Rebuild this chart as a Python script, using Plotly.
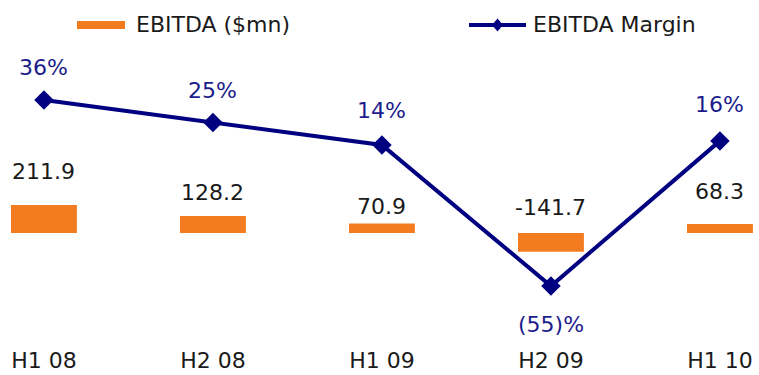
import plotly.graph_objects as go

# Half-year periods
periods = ["H1 08", "H2 08", "H1 09", "H2 09", "H1 10"]
# EBITDA in $ millions
ebitda = [211.9, 128.2, 70.9, -141.7, 68.3]
# EBITDA margin in percent
margin = [36, 25, 14, -55, 16]

ORANGE = "#F47C20"
NAVY = "#000080"
FONT = "DejaVu Sans"
FS = 22

W, H = 759, 375
M_T, M_B = 0, 30
PH = H - M_T - M_B  # plot area height in px


def pct_label(v):
    return f"{v}%" if v >= 0 else f"({abs(v)})%"


fig = go.Figure()

fig.add_trace(go.Bar(
    x=periods, y=ebitda, marker=dict(color=ORANGE, line=dict(width=0)),
    name="EBITDA ($mn)", showlegend=False, yaxis="y",
))

fig.add_trace(go.Scatter(
    x=periods, y=margin, mode="lines+markers",
    line=dict(color=NAVY, width=4),
    marker=dict(symbol="diamond", size=15, color=NAVY),
    name="EBITDA Margin", showlegend=False, yaxis="y2",
))

# value labels above the bars
bar_shift = [33, 24, 17, 26, 32]
for p, v, s in zip(periods, ebitda, bar_shift):
    fig.add_annotation(x=p, y=max(v, 0), yref="y", text=f"{v:.1f}",
                       showarrow=False, yanchor="middle", yshift=s,
                       font=dict(family=FONT, size=FS, color="#1a1a1a"))

# margin labels around the markers
pct_shift = [33, 32, 34, -38, 36]
for p, v, s in zip(periods, margin, pct_shift):
    fig.add_annotation(x=p, y=v, yref="y2", text=pct_label(v),
                       showarrow=False, yanchor="middle", yshift=s,
                       font=dict(family=FONT, size=FS, color="#1c1c8c"))


# legend, drawn in paper coordinates
def px(x):
    return x / W


def py(y):
    return 1 - (y - M_T) / PH


ly = 25
fig.add_shape(type="line", xref="paper", yref="paper",
              x0=px(77), x1=px(125), y0=py(ly), y1=py(ly),
              line=dict(color=ORANGE, width=8))
fig.add_annotation(xref="paper", yref="paper", x=px(134), y=py(ly),
                   text="EBITDA ($mn)", showarrow=False,
                   xanchor="left", yanchor="middle",
                   font=dict(family=FONT, size=FS, color="#1a1a1a"))
fig.add_shape(type="line", xref="paper", yref="paper",
              x0=px(469), x1=px(526), y0=py(ly), y1=py(ly),
              line=dict(color=NAVY, width=4))
cx = 497.5
fig.add_shape(type="path", xref="paper", yref="paper",
              path=(f"M {px(cx - 5.5)} {py(ly)} L {px(cx)} {py(ly - 6.5)} "
                    f"L {px(cx + 5.5)} {py(ly)} L {px(cx)} {py(ly + 6.5)} Z"),
              fillcolor=NAVY, line=dict(color=NAVY, width=0))
fig.add_annotation(xref="paper", yref="paper", x=px(531), y=py(ly),
                   text="EBITDA Margin", showarrow=False,
                   xanchor="left", yanchor="middle",
                   font=dict(family=FONT, size=FS, color="#1a1a1a"))

fig.update_layout(
    width=W, height=H,
    margin=dict(l=0, r=0, t=M_T, b=M_B),
    paper_bgcolor="white", plot_bgcolor="white",
    bargap=0.61,
    showlegend=False,
    xaxis=dict(type="category", range=[-0.26, 4.231], showgrid=False,
               zeroline=False, showline=False, ticks="",
               tickfont=dict(family=FONT, size=FS, color="#1a1a1a")),
    yaxis=dict(range=[-845.9, 1759.9], visible=False),
    yaxis2=dict(range=[-83.86, 84.93], overlaying="y", visible=False),
)

fig.write_html("out.html")
